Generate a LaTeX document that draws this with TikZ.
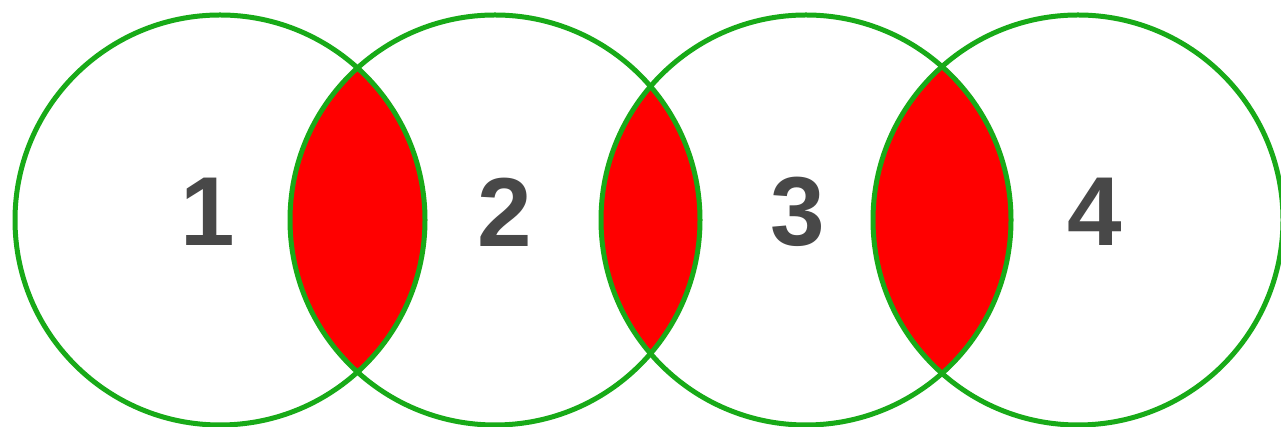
\documentclass[tikz,border=0pt]{standalone}
\usepackage{fontspec}
\setmainfont{Liberation Sans}
\definecolor{ringgreen}{RGB}{24,170,24}
\definecolor{lensred}{RGB}{255,0,0}
\definecolor{numgray}{RGB}{72,72,72}
\begin{document}
\begin{tikzpicture}[x=1pt,y=1pt,
  ring/.style={draw=ringgreen,line width=5pt},
  numlabel/.style={text=numgray,font=\fontsize{98}{98}\selectfont\bfseries,inner sep=0pt}]
\useasboundingbox (0,0) rectangle (1281,427);
\fill[white] (0,0) rectangle (1281,427);
\coordinate (p1) at (220,207);
\coordinate (p2) at (495,207);
\coordinate (p3) at (806,207);
\coordinate (p4) at (1078,207);
\def\rr{205}
% lenses
\begin{scope}
  \clip (p1) circle (\rr);
  \fill[lensred] (p2) circle (\rr);
\end{scope}
\begin{scope}
  \clip (p2) circle (\rr);
  \fill[lensred] (p3) circle (\rr);
\end{scope}
\begin{scope}
  \clip (p3) circle (\rr);
  \fill[lensred] (p4) circle (\rr);
\end{scope}
% rings
\draw[ring] (p1) circle (\rr);
\draw[ring] (p2) circle (\rr);
\draw[ring] (p3) circle (\rr);
\draw[ring] (p4) circle (\rr);
% labels
\node[numlabel] (n1) at (208,215) {1};
\node[numlabel] (n2) at (505,215) {2};
\node[numlabel] (n3) at (798,215) {3};
\node[numlabel] (n4) at (1095,215) {4};
\end{tikzpicture}
\end{document}
